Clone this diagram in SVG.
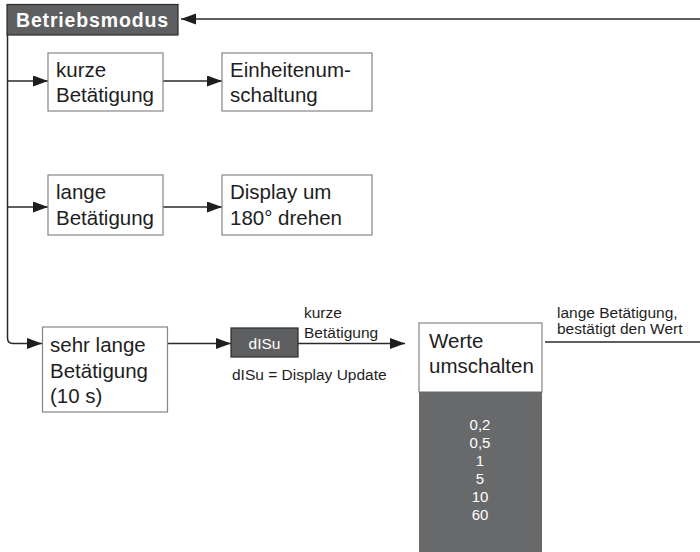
<svg xmlns="http://www.w3.org/2000/svg" width="700" height="552" viewBox="0 0 700 552">
<style>
.box{fill:#fff;stroke:#858585;stroke-width:1.2}
.t{font-family:"Liberation Sans",Arial,Helvetica,sans-serif;font-size:20.5px;fill:#1e1e1e}
.s{font-family:"Liberation Sans",Arial,Helvetica,sans-serif;font-size:15.5px;fill:#1e1e1e}
.w{font-family:"Liberation Sans",Arial,Helvetica,sans-serif;fill:#fff}
.c{fill:none;stroke:#2a2a2a;stroke-width:1.5}
</style>
<defs>
<marker id="ah" markerUnits="userSpaceOnUse" markerWidth="16" markerHeight="12" refX="15" refY="5.5" orient="auto">
<path d="M0,0 L15,5.5 L0,11 z" fill="#1e1e1e"/>
</marker>
</defs>
<rect width="700" height="552" fill="#fff"/>
<g id="connectors">
<path class="c" d="M700,19 H181" marker-end="url(#ah)"/>
<path class="c" d="M7.5,35 V338 Q7.5,343.5 13,343.5 H42" marker-end="url(#ah)"/>
<path class="c" d="M7.5,81 H48" marker-end="url(#ah)"/>
<path class="c" d="M7.5,207 H48" marker-end="url(#ah)"/>
<path class="c" d="M163,81 H222" marker-end="url(#ah)"/>
<path class="c" d="M163,207 H222" marker-end="url(#ah)"/>
<path class="c" d="M168,343.5 H231" marker-end="url(#ah)"/>
<path class="c" d="M298,343.5 H405" marker-end="url(#ah)"/>
<path class="c" d="M545,342 H700"/>
</g>
<g id="betriebsmodus">
<rect x="7" y="4.5" width="171" height="30.5" fill="#5e5f61" stroke="#2a2a2a" stroke-width="1.2"/>
<text class="w" x="16" y="27" font-size="19.5" font-weight="bold" textLength="152" lengthAdjust="spacing">Betriebsmodus</text>
</g>
<g id="kurze">
<rect class="box" x="48" y="53" width="115" height="58"/>
<text class="t" x="56" y="77">kurze</text>
<text class="t" x="56" y="102">Betätigung</text>
</g>
<g id="einheiten">
<rect class="box" x="222" y="53" width="150" height="58"/>
<text class="t" x="230" y="77">Einheitenum-</text>
<text class="t" x="230" y="102">schaltung</text>
</g>
<g id="lange">
<rect class="box" x="48" y="175" width="115" height="60"/>
<text class="t" x="56" y="199">lange</text>
<text class="t" x="56" y="225">Betätigung</text>
</g>
<g id="display">
<rect class="box" x="222" y="175" width="150" height="60"/>
<text class="t" x="230" y="199">Display um</text>
<text class="t" x="230" y="225">180° drehen</text>
</g>
<g id="sehrlange">
<rect class="box" x="42.5" y="327" width="125" height="85"/>
<text class="t" x="50" y="352">sehr lange</text>
<text class="t" x="50" y="378">Betätigung</text>
<text class="t" x="50" y="403">(10 s)</text>
</g>
<g id="dlsu">
<rect x="231" y="328" width="67" height="29" fill="#5e5f61" stroke="#2a2a2a" stroke-width="1.2"/>
<text class="w" x="264.5" y="349" font-size="15.5" text-anchor="middle">dISu</text>
</g>
<g id="dlsu-note">
<text class="s" x="232" y="380" font-size="15">dISu = Display Update</text>
</g>
<g id="label-kurze">
<text class="s" x="304" y="318">kurze</text>
<text class="s" x="304" y="338">Betätigung</text>
</g>
<g id="werte">
<rect class="box" x="419" y="323" width="123" height="69"/>
<rect x="419" y="392" width="123" height="160" fill="#68696b"/>
<text class="t" x="429" y="348">Werte</text>
<text class="t" x="429" y="373">umschalten</text>
<g class="w" font-size="15" text-anchor="middle">
<text x="480" y="430">0,2</text>
<text x="480" y="448">0,5</text>
<text x="480" y="466">1</text>
<text x="480" y="484">5</text>
<text x="480" y="502">10</text>
<text x="480" y="520">60</text>
</g>
</g>
<g id="label-lange">
<text class="s" x="557" y="318">lange Betätigung,</text>
<text class="s" x="557" y="334">bestätigt den Wert</text>
</g>
</svg>
